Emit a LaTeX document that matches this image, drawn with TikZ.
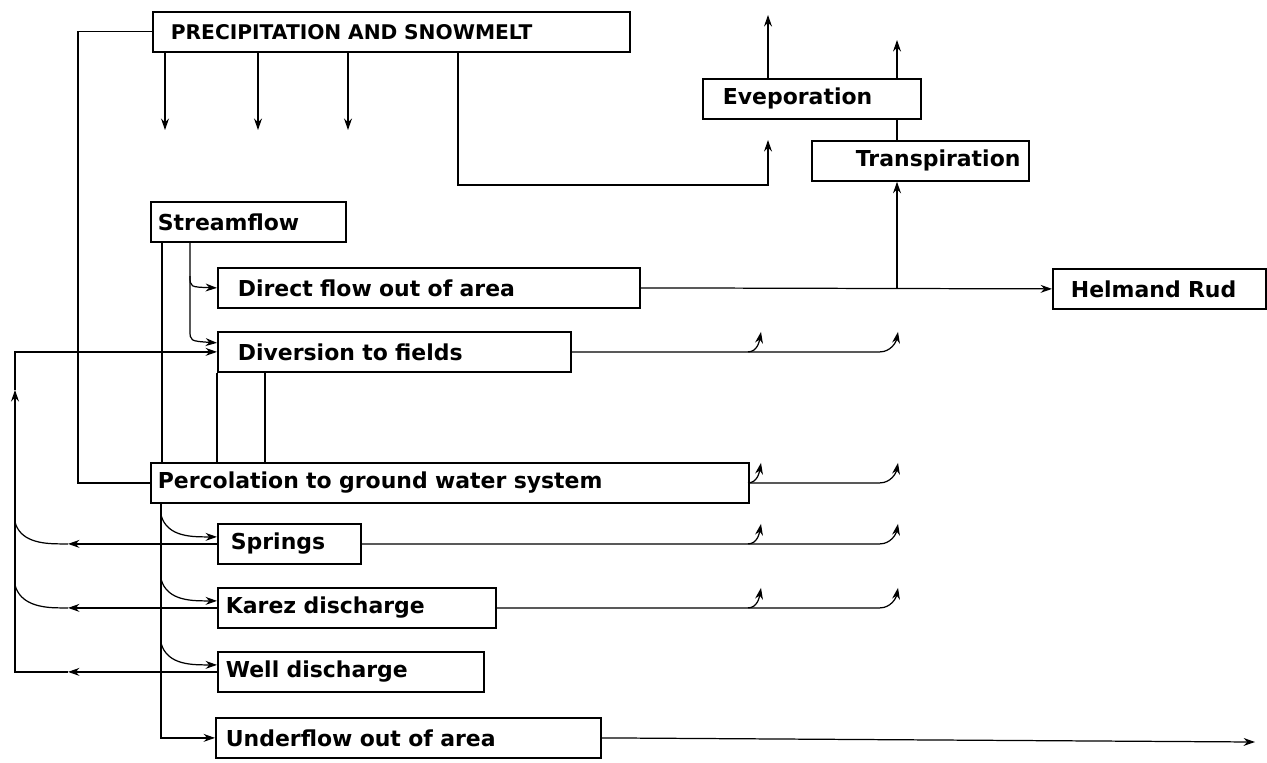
\documentclass[tikz,border=0pt]{standalone}
\usepackage{fontspec}
\setmainfont{DejaVu Sans}
\usetikzlibrary{arrows.meta,calc}

\tikzset{
  box/.style 2 args={draw,line width=1pt,anchor=north west,text width=#1,inner xsep=#2,
    inner ysep=2pt,minimum height=0.8cm,align=left,font=\bfseries\fontsize{12.5}{14}\selectfont},
  flow/.style={line width=0.7pt},
  arr/.style={flow,-{Stealth[length=6.5pt,width=4.5pt]}}
}

\begin{document}
\begin{tikzpicture}[x=0.02cm,y=-0.02cm]
  \useasboundingbox (0,0) rectangle (1267,762);
  % boxes
  \node[box={8.82cm}{0.36cm},font=\bfseries\fontsize{11.5}{13}\selectfont] (prec) at (152,11) {PRECIPITATION AND SNOWMELT};
  \node[box={3.56cm}{0.4cm}] (evap) at (702,78) {Eveporation};
  \node[box={2.58cm}{0.88cm}] (trans) at (811,140) {Transpiration};
  \node[box={3.62cm}{0.14cm}] (stream) at (150,201) {Streamflow};
  \node[box={7.64cm}{0.4cm}] (direct) at (217,267) {Direct flow out of area};
  \node[box={3.54cm}{0.36cm}] (helm) at (1052,268) {Helmand Rud};
  \node[box={6.26cm}{0.4cm}] (divers) at (217,331) {Diversion to fields};
  \node[box={11.68cm}{0.14cm}] (perc) at (150,462) {Percolation to ground water system};
  \node[box={2.34cm}{0.26cm}] (springs) at (217,523) {Springs};
  \node[box={5.24cm}{0.16cm}] (karez) at (217,587) {Karez discharge};
  \node[box={5.0cm}{0.16cm}] (well) at (217,651) {Well discharge};
  \node[box={7.3cm}{0.2cm}] (under) at (215,717) {Underflow out of area};

  % precipitation
  \foreach \x [count=\i] in {165,258,348} {
    \coordinate (rain\i) at (\x,130);
    \draw[arr] (rain\i |- prec.south) -- (rain\i);
  }
  \draw[flow] (prec.west) -- (78,0 |- prec.west) -- (78,0 |- perc.west) -- (perc.west);
  \coordinate (evin) at (768,140);
  \draw[arr] (prec.south -| 458,0) -- (458,185) -| (evin);

  % evaporation and transpiration
  \coordinate (evout) at (768,15);
  \coordinate (trout) at (897,40);
  \draw[arr] (evout |- evap.north) -- (evout);
  \draw[arr] (trout |- evap.north) -- (trout);
  \draw[flow] (trout |- evap.south) -- (trout |- trans.north);
  \draw[arr] (direct.east) -- (helm.west);
  \draw[arr] (trout |- direct.east) -- (trout |- trans.south);

  % streamflow
  \draw[flow] (stream.south -| 162,0) -- (162,0 |- perc.north);
  \draw[arr] (stream.south -| 190,0) -- (190,330) .. controls (190,341) .. ([yshift=0.18cm]divers.west);
  \draw[arr] (190,276) .. controls (190,287) .. (direct.west);
  \draw[flow] (divers.south west) -- (divers.south west |- perc.north);
  \draw[flow] (divers.south -| 265,0) -- (265,0 |- perc.north);

  % losses to the air
  \foreach \n in {divers,perc,springs,karez} {
    \draw[arr] (\n.east) -- (880,0 |- \n.east) to[out=0,in=-100] ++(18,-20);
    \draw[arr] (748,0 |- \n.east) to[out=0,in=-100] ++(13,-20);
  }

  % ground water
  \draw[arr] (perc.south -| 161,0) -- (161,0 |- under.west) -- (under.west);
  \foreach \n in {springs,karez,well}
    \draw[arr] ($(161,0 |- \n.north)+(0,-8)$) to[out=-75,in=180] ([yshift=0.14cm]\n.west);
  \foreach \n/\y in {springs/522,karez/585} {
    \draw[arr] (\n.west) -- (68,0 |- \n.west);
    \draw[flow] (68,0 |- \n.west) -- (60,0 |- \n.west) to[out=180,in=-75] (15,\y);
  }
  \draw[arr] (well.west) -- (68,0 |- well.west);
  \draw[arr] (68,0 |- well.west) -- (15,0 |- well.west) -- (15,390);
  \draw[arr] (15,390) -- (15,0 |- divers.west) -- (divers.west);
  \coordinate (uout) at (1255,742);
  \draw[arr] (under.east) -- (uout);
\end{tikzpicture}
\end{document}
